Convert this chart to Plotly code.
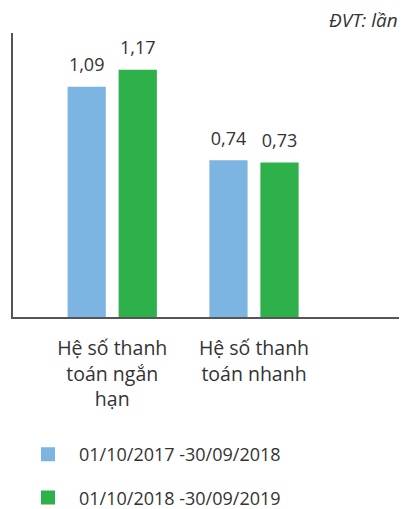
import plotly.graph_objects as go

categories = ["Hệ số thanh<br>toán ngắn<br>hạn", "Hệ số thanh<br>toán nhanh"]
series_names = ["01/10/2017 -30/09/2018", "01/10/2018 -30/09/2019"]
values_2018 = [1.09, 0.74]
values_2019 = [1.17, 0.73]
labels_2018 = ["1,09", "0,74"]
labels_2019 = ["1,17", "0,73"]
colors = ["#7db5e2", "#2eb04b"]
unit_text = "ĐVT: lần"

FONT = "Open Sans"
TXT = "#333333"

fig = go.Figure()
for i, (name, vals) in enumerate([(series_names[0], values_2018),
                                   (series_names[1], values_2019)]):
    fig.add_trace(go.Bar(
        x=categories, y=vals, name=name,
        marker=dict(color=colors[i], line=dict(color=colors[i], width=2)),
        legendgroup=f"g{i}", offsetgroup=str(i),
        hoverinfo="skip",
    ))
for i, (vals, labs) in enumerate([(values_2018, labels_2018), (values_2019, labels_2019)]):
    fig.add_trace(go.Scatter(
        x=categories, y=vals, mode="markers+text", text=labs,
        textposition="top center",
        textfont=dict(family=FONT, size=18, color=TXT),
        marker=dict(size=18, color="rgba(0,0,0,0)"),
        offsetgroup=str(i), showlegend=False, hoverinfo="skip", cliponaxis=False,
    ))

fig.update_layout(
    width=399, height=501,
    margin=dict(l=5, r=7, t=25, b=192, autoexpand=False),
    paper_bgcolor="white", plot_bgcolor="white",
    barmode="group", bargap=0.28, bargroupgap=0.29,
    scattermode="group",
    font=dict(family=FONT, size=17, color=TXT),
    showlegend=True,
    legend=dict(
        xref="container", yref="container",
        x=0.0226, xanchor="left", y=0.1457, yanchor="top",
        orientation="v", traceorder="grouped", tracegroupgap=17,
        itemwidth=52, font=dict(family=FONT, size=18, color=TXT),
        bgcolor="rgba(0,0,0,0)",
    ),
    xaxis=dict(
        range=[-0.70, 2.03], showline=True, linecolor="#555555", linewidth=2,
        showgrid=False, zeroline=False, ticks="", ticklabelstandoff=13,
        tickfont=dict(family=FONT, size=19.5, color=TXT),
        fixedrange=True,
    ),
    yaxis=dict(
        range=[0, 1.35], showline=True, linecolor="#555555", linewidth=2,
        showgrid=False, zeroline=False, showticklabels=False, ticks="",
        fixedrange=True,
    ),
    annotations=[dict(
        text=unit_text, xref="paper", yref="paper", x=1.0, y=1.046,
        xanchor="right", yanchor="middle", showarrow=False,
        font=dict(family=FONT, size=19, color=TXT, style="italic"),
    )],
)

fig.write_html("out.html")
